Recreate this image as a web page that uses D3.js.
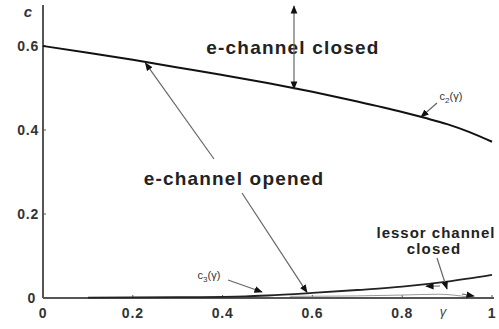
<!DOCTYPE html>
<html>
<head>
<meta charset="utf-8">
<script src="https://cdn.jsdelivr.net/npm/d3@7"></script>
<style>
  body { margin: 0; background: #fff; }
  text { font-family: "Liberation Sans", Arial, sans-serif; }
</style>
</head>
<body>
<div id="chart"></div>
<script>
// gamma values and the two branch curves
const gamma = [0, 0.1, 0.2, 0.3, 0.4, 0.5, 0.6, 0.7, 0.8, 0.85, 0.9, 0.95, 1.0];
const c2 = [0.600, 0.584, 0.567, 0.549, 0.531, 0.512, 0.491, 0.468, 0.443, 0.429, 0.414, 0.395, 0.372];
const gamma3 = [0.1, 0.3, 0.45, 0.5, 0.6, 0.7, 0.8, 0.9, 1.0];
const c3 = [0.001, 0.002, 0.004, 0.006, 0.012, 0.019, 0.027, 0.039, 0.055];
const gammaLow = [0.55, 0.7, 0.8, 0.88, 0.95];
const cLow = [0.004, 0.005, 0.007, 0.009, 0.002];
const xTicks = [0, 0.2, 0.4, 0.6, 0.8, 1];
const yTicks = [0, 0.2, 0.4, 0.6];

const W = 499, H = 329;
const svg = d3.select("#chart").append("svg")
    .attr("width", W)
    .attr("height", H);

const x = d3.scaleLinear().domain([0, 1]).range([43, 492]);
const y = d3.scaleLinear().domain([0, 0.6]).range([298, 46]);

const defs = svg.append("defs");
defs.append("marker")
    .attr("id", "ah")
    .attr("viewBox", "0 0 10 10")
    .attr("refX", 9).attr("refY", 5)
    .attr("markerWidth", 7).attr("markerHeight", 7)
    .attr("orient", "auto-start-reverse")
    .append("path")
    .attr("d", "M0,1 L10,5 L0,9 Z")
    .attr("fill", "#111");

// axes
svg.append("line")
    .attr("x1", x(0)).attr("x2", x(0))
    .attr("y1", y(0)).attr("y2", 5)
    .attr("stroke", "#555").attr("stroke-width", 2);
svg.append("line")
    .attr("x1", x(0)).attr("x2", x(1) + 2)
    .attr("y1", y(0)).attr("y2", y(0))
    .attr("stroke", "#555").attr("stroke-width", 2);

svg.selectAll(".ytick")
    .data(yTicks.filter(d => d > 0))
    .enter().append("line")
    .attr("x1", x(0)).attr("x2", x(0) + 3)
    .attr("y1", d => y(d)).attr("y2", d => y(d))
    .attr("stroke", "#555");
svg.selectAll(".xtick")
    .data(xTicks.filter(d => d > 0))
    .enter().append("line")
    .attr("x1", d => x(d)).attr("x2", d => x(d))
    .attr("y1", y(0)).attr("y2", y(0) - 3)
    .attr("stroke", "#555");

svg.selectAll(".ylab")
    .data(yTicks)
    .enter().append("text")
    .attr("x", d => d === 0 ? 36 : 39)
    .attr("y", d => y(d) + 5)
    .attr("text-anchor", "end")
    .attr("font-size", 14)
    .attr("letter-spacing", 0.8)
    .attr("font-weight", "bold")
    .attr("fill", "#333")
    .text(d => d === 0 ? "0" : d3.format(".1f")(d));

svg.selectAll(".xlab")
    .data(xTicks)
    .enter().append("text")
    .attr("x", d => x(d))
    .attr("y", 318)
    .attr("text-anchor", "middle")
    .attr("font-size", 14)
    .attr("letter-spacing", 0.8)
    .attr("font-weight", "bold")
    .attr("fill", "#333")
    .text(d => d === 0 || d === 1 ? String(d) : d3.format(".1f")(d));

svg.append("text")
    .attr("x", 28).attr("y", 17)
    .attr("text-anchor", "middle")
    .attr("font-size", 15)
    .attr("font-weight", "bold")
    .attr("font-style", "italic")
    .attr("fill", "#333")
    .text("c");
svg.append("text")
    .attr("x", 443).attr("y", 316)
    .attr("text-anchor", "middle")
    .attr("font-size", 13)
    .attr("font-style", "italic")
    .attr("fill", "#444")
    .text("γ");

// curves
const line = d3.line().curve(d3.curveMonotoneX);
svg.append("path")
    .attr("d", line(gamma.map((g, i) => [x(g), y(c2[i])])))
    .attr("fill", "none").attr("stroke", "#111").attr("stroke-width", 2);
svg.append("path")
    .attr("d", line(gamma3.map((g, i) => [x(g), y(c3[i])])))
    .attr("fill", "none").attr("stroke", "#222").attr("stroke-width", 1.8);
svg.append("path")
    .attr("d", line(gammaLow.map((g, i) => [x(g), y(cLow[i])])))
    .attr("fill", "none").attr("stroke", "#999").attr("stroke-width", 1);

// annotations
function arrow(x1, y1, x2, y2, both) {
    const l = svg.append("line")
        .attr("x1", x1).attr("y1", y1)
        .attr("x2", x2).attr("y2", y2)
        .attr("stroke", "#666").attr("stroke-width", 1.2)
        .attr("marker-end", "url(#ah)");
    if (both) l.attr("marker-start", "url(#ah)");
}

function bigLabel(tx, ty, str, size, spacing) {
    svg.append("text")
        .attr("x", tx).attr("y", ty)
        .attr("text-anchor", "middle")
        .attr("font-size", size)
        .attr("letter-spacing", spacing)
        .attr("font-weight", "bold")
        .attr("fill", "#222")
        .text(str);
}

bigLabel(293, 54, "e-channel closed", 19, 1.2);
arrow(294, 6, 294, 89, true);

bigLabel(234, 185, "e-channel opened", 19, 1.2);
arrow(214, 159, x(0.228), y(0.562) + 1);
arrow(242, 193, 307, y(0.011) - 1);

svg.append("text")
    .attr("x", 451).attr("y", 100)
    .attr("text-anchor", "middle")
    .attr("font-size", 11)
    .attr("fill", "#333")
    .text("c")
    .append("tspan").attr("font-size", 8).attr("dy", 3).text("2")
    .append("tspan").attr("font-size", 11).attr("dy", -3).text("(γ)");
arrow(437, 103, 421, 117);

svg.append("text")
    .attr("x", 209).attr("y", 279)
    .attr("text-anchor", "middle")
    .attr("font-size", 11)
    .attr("fill", "#333")
    .text("c")
    .append("tspan").attr("font-size", 8).attr("dy", 3).text("3")
    .append("tspan").attr("font-size", 11).attr("dy", -3).text("(γ)");
arrow(228, 280, 262, 292);

bigLabel(436, 238, "lessor channel", 15, 1);
bigLabel(434, 254, "closed", 15, 1.2);
arrow(437, 258, 447, 289);
arrow(440, 286, 426, y(0.028));
arrow(462, 294, 474, 296);
</script>
</body>
</html>
